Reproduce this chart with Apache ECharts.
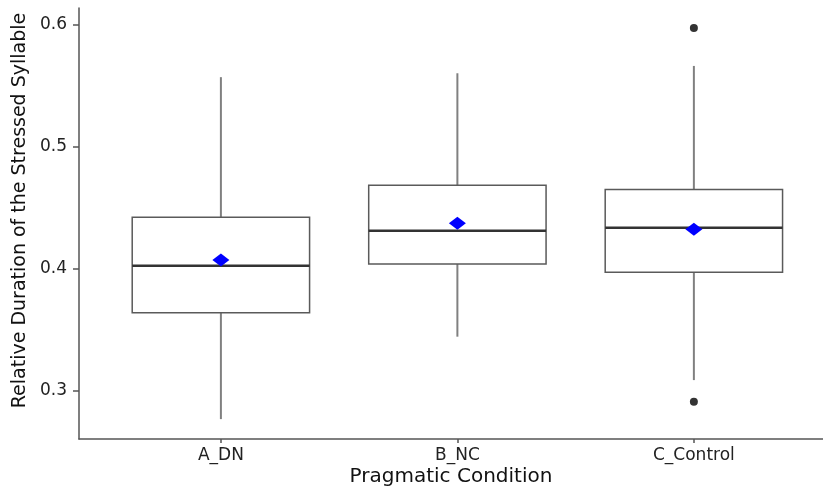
<!DOCTYPE html>
<html>
<head>
<meta charset="utf-8">
<script src="https://cdn.jsdelivr.net/npm/echarts@6/dist/echarts.min.js"></script>
<style>
html,body{margin:0;padding:0;background:#fff;}
#chart{width:823px;height:487px;}
</style>
</head>
<body>
<div id="chart"></div>
<script>
const categories = ['A_DN', 'B_NC', 'C_Control'];
const whiskerLow  = [0.2769, 0.3445, 0.3089];
const q1          = [0.3642, 0.4041, 0.3973];
const median      = [0.4027, 0.4314, 0.4339];
const q3          = [0.4424, 0.4687, 0.4651];
const whiskerHigh = [0.5573, 0.5605, 0.5665];
const means       = [0.4074, 0.4375, 0.4326];
const outlierCategory = ['C_Control', 'C_Control'];
const outlierValues   = [0.5977, 0.2911];
const yTicks = [0.3, 0.4, 0.5, 0.6];

const pos = c => categories.indexOf(c) + 1;
const boxData = categories.map((c, i) => [i + 1, whiskerLow[i], q1[i], median[i], q3[i], whiskerHigh[i]]);
const meanData = categories.map((c, i) => [i + 1, means[i]]);
const outlierData = outlierCategory.map((c, i) => [pos(c), outlierValues[i]]);

const font = "'DejaVu Sans', 'Liberation Sans', Arial, sans-serif";
const chart = echarts.init(document.getElementById('chart'), null, {renderer: 'canvas'});

function renderBox(params, api) {
  const x = api.value(0);
  const pMin = api.coord([x, api.value(1)]);
  const pQ1 = api.coord([x, api.value(2)]);
  const pMed = api.coord([x, api.value(3)]);
  const pQ3 = api.coord([x, api.value(4)]);
  const pMax = api.coord([x, api.value(5)]);
  const half = api.size([0.375, 0])[0];
  const cx = pMed[0];
  const whiskerStyle = {stroke: '#808080', lineWidth: 2};
  return {
    type: 'group',
    children: [
      {type: 'line', shape: {x1: cx, y1: pMax[1], x2: cx, y2: pQ3[1]}, style: whiskerStyle},
      {type: 'line', shape: {x1: cx, y1: pQ1[1], x2: cx, y2: pMin[1]}, style: whiskerStyle},
      {type: 'rect', shape: {x: cx - half, y: pQ3[1], width: 2 * half, height: pQ1[1] - pQ3[1]},
        style: {fill: '#ffffff', stroke: '#5a5a5a', lineWidth: 1.5}},
      {type: 'line', shape: {x1: cx - half, y1: pMed[1], x2: cx + half, y2: pMed[1]},
        style: {stroke: '#333333', lineWidth: 2.5}}
    ]
  };
}

const option = {
  backgroundColor: '#ffffff',
  animation: false,
  grid: {left: 79, top: 8, right: 0, bottom: 48, containLabel: false, outerBoundsMode: 'none'},
  xAxis: {
    type: 'value', min: 0.4, max: 3.546,
    splitLine: {show: false},
    axisLine: {show: true, lineStyle: {color: '#555', width: 1.5}},
    axisTick: {show: true, customValues: [1, 2, 3], length: 4, lineStyle: {color: '#555', width: 1.5}},
    axisLabel: {customValues: [1, 2, 3], formatter: v => categories[Math.round(v) - 1] || '',
      color: '#222', fontSize: 17, fontFamily: font, margin: 8},
    name: 'Pragmatic Condition', nameLocation: 'middle', nameGap: 28, nameMoveOverlap: false,
    nameTextStyle: {color: '#111', fontSize: 20, fontFamily: font}
  },
  yAxis: {
    type: 'value', min: 0.2606, max: 0.614,
    splitLine: {show: false},
    axisLine: {show: true, lineStyle: {color: '#555', width: 1.5}},
    axisTick: {show: true, customValues: yTicks, length: 6, lineStyle: {color: '#555', width: 1.5}},
    axisLabel: {customValues: yTicks, formatter: v => v.toFixed(1),
      color: '#222', fontSize: 17, fontFamily: font, margin: 12},
    name: 'Relative Duration of the Stressed Syllable', nameLocation: 'middle', nameGap: 49, nameMoveOverlap: false,
    nameTextStyle: {color: '#111', fontSize: 19, fontFamily: font, padding: [0, 0, 0, 26]}
  },
  series: [
    {
      type: 'custom', renderItem: renderBox, data: boxData,
      encode: {x: 0, y: [1, 2, 3, 4, 5]}, clip: false, z: 2
    },
    {
      type: 'scatter', data: outlierData, symbol: 'circle', symbolSize: 8,
      itemStyle: {color: '#333333', opacity: 1}, z: 3
    },
    {
      type: 'scatter', data: meanData, symbol: 'diamond', symbolSize: [17, 13],
      itemStyle: {color: '#0000ff', opacity: 1}, z: 4
    }
  ]
};
chart.setOption(option);
</script>
</body>
</html>
